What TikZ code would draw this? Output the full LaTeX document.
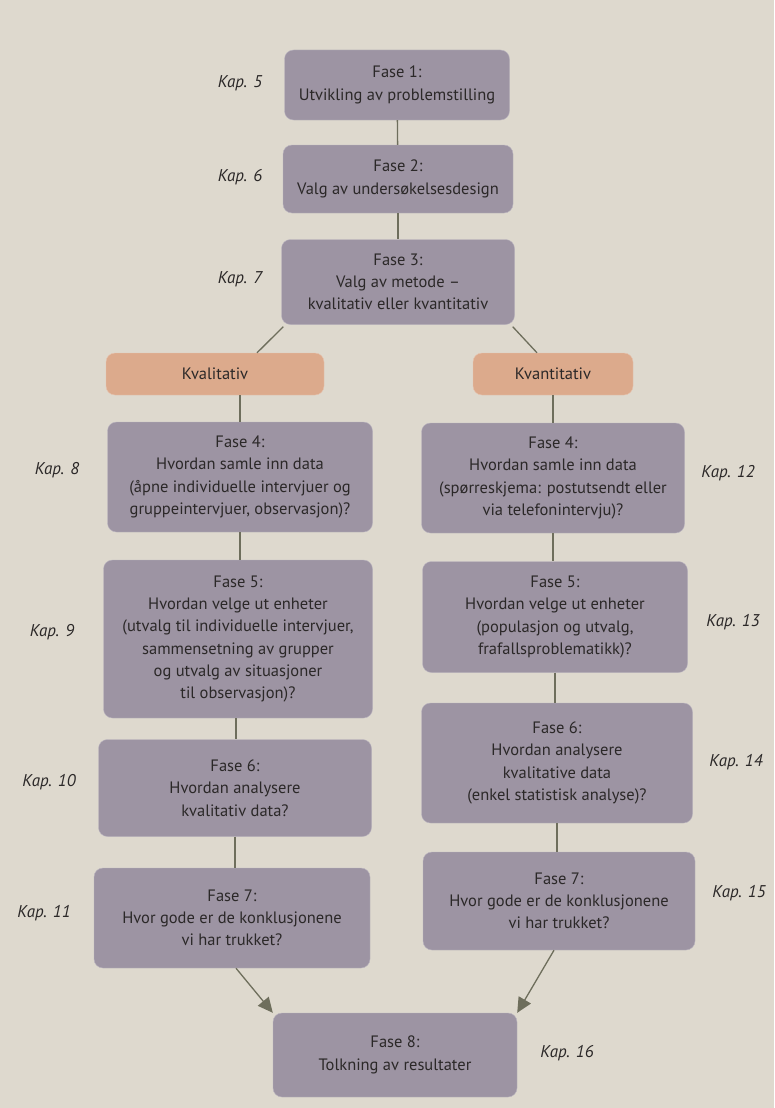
\documentclass[tikz,border=0pt]{standalone}
\usepackage{fontspec}
\setmainfont{PT Sans}
\usetikzlibrary{arrows.meta,calc}
\definecolor{paper}{HTML}{DED9CE}
\definecolor{fasefill}{HTML}{9D94A3}
\definecolor{valgfill}{HTML}{DCAA8C}
\definecolor{linjefarge}{HTML}{6E6E5C}
\definecolor{tekst}{HTML}{2B2828}
\tikzset{
  fase/.style={draw=fasefill!70!white, fill=fasefill, rounded corners=9pt, align=center,
    text=tekst, font=\fontsize{16.5}{22.3}\selectfont, inner sep=0pt},
  valg/.style={draw=valgfill!70!white, fill=valgfill, rounded corners=9pt, align=center,
    text=tekst, font=\fontsize{16.5}{22.3}\selectfont, inner sep=0pt, minimum width=160pt, minimum height=42pt},
  kap/.style={text=tekst, font=\itshape\fontsize{17}{22}\selectfont},
  linje/.style={draw=linjefarge, line width=1.3pt},
  pil/.style={linje, -{Triangle[length=15pt,width=14pt]}}
}
\begin{document}
\begin{tikzpicture}[x=1pt,y=-1pt]
\fill[paper] (0,0) rectangle (774,1108);
\useasboundingbox (0,0) rectangle (774,1108);

\node[fase, minimum width=225pt, minimum height=70pt] (f1) at (397,85) {Fase 1:\\Utvikling av problemstilling};
\node[fase, minimum width=230pt, minimum height=68pt] (f2) at (398,179) {Fase 2:\\Valg av undersøkelsesdesign};
\node[fase, minimum width=233pt, minimum height=85pt] (f3) at (398,282) {Fase 3:\\Valg av metode –\\kvalitativ eller kvantitativ};

\node[valg, minimum width=218pt] (kval) at (215,374) {Kvalitativ};
\node[valg] (kvan) at (553,374) {Kvantitativ};

\node[fase, minimum width=265pt, minimum height=110pt] (l4) at (240,477) {Fase 4:\\Hvordan samle inn data\\(åpne individuelle intervjuer og\\gruppeintervjuer, observasjon)?};
\node[fase, minimum width=269pt, minimum height=158pt] (l5) at (238,639) {Fase 5:\\Hvordan velge ut enheter\\(utvalg til individuelle intervjuer,\\sammensetning av grupper\\og utvalg av situasjoner\\til observasjon)?};
\node[fase, minimum width=273pt, minimum height=97pt] (l6) at (235,788) {Fase 6:\\Hvordan analysere\\kvalitativ data?};
\node[fase, minimum width=276pt, minimum height=100pt] (l7) at (232,918) {Fase 7:\\Hvor gode er de konklusjonene\\vi har trukket?};

\node[fase, minimum width=263pt, minimum height=110pt] (r4) at (553,478) {Fase 4:\\Hvordan samle inn data\\(spørreskjema: postutsendt eller\\via telefonintervju)?};
\node[fase, minimum width=265pt, minimum height=111pt] (r5) at (555,617) {Fase 5:\\Hvordan velge ut enheter\\(populasjon og utvalg,\\frafallsproblematikk)?};
\node[fase, minimum width=271pt, minimum height=120pt] (r6) at (557,763) {Fase 6:\\Hvordan analysere\\kvalitative data\\(enkel statistisk analyse)?};
\node[fase, minimum width=272pt, minimum height=98pt] (r7) at (559,901) {Fase 7:\\Hvor gode er de konklusjonene\\vi har trukket?};

\node[fase, minimum width=244pt, minimum height=84pt] (f8) at (395,1055) {Fase 8:\\Tolkning av resultater};

\node[kap] (k5) at (240,83) {Kap. 5};
\node[kap] (k6) at (240,177) {Kap. 6};
\node[kap] (k7) at (240,279) {Kap. 7};
\node[kap] (k8) at (57,470) {Kap. 8};
\node[kap] (k9) at (52,632) {Kap. 9};
\node[kap] (k10) at (49,782) {Kap. 10};
\node[kap] (k11) at (44,913) {Kap. 11};
\node[kap] (k12) at (728,473) {Kap. 12};
\node[kap] (k13) at (733,622) {Kap. 13};
\node[kap] (k14) at (736,762) {Kap. 14};
\node[kap] (k15) at (739,893) {Kap. 15};
\node[kap] (k16) at (567,1053) {Kap. 16};

\draw[linje] (f1) -- (f2);
\draw[linje] (f2) -- (f3);
\draw[linje] ($(f3.south west)+(2pt,-2pt)$) -- ($(kval.north)+(42pt,0)$);
\draw[linje] ($(f3.south east)+(-2pt,-2pt)$) -- ($(kvan.north)+(-16pt,0)$);
\draw[linje] (kval.south -| l4) -- (l4.north);
\draw[linje] (l4.south) -- (l4.south |- l5.north);
\draw[linje] ($(l5.south)+(-2pt,0)$) -- ($(l5.south |- l6.north)+(-2pt,0)$);
\draw[linje] (l6.south) -- (l6.south |- l7.north);
\draw[linje] (kvan) -- (r4);
\draw[linje] (r4.south) -- (r4.south |- r5.north);
\draw[linje] (r5.south) -- (r5.south |- r6.north);
\draw[linje] (r6.south) -- (r6.south |- r7.north);
\draw[pil] ($(l7.south)+(4pt,0)$) -- (f8.north west);
\draw[pil] ($(r7.south)+(-5pt,0)$) -- (f8.north east);
\end{tikzpicture}
\end{document}
